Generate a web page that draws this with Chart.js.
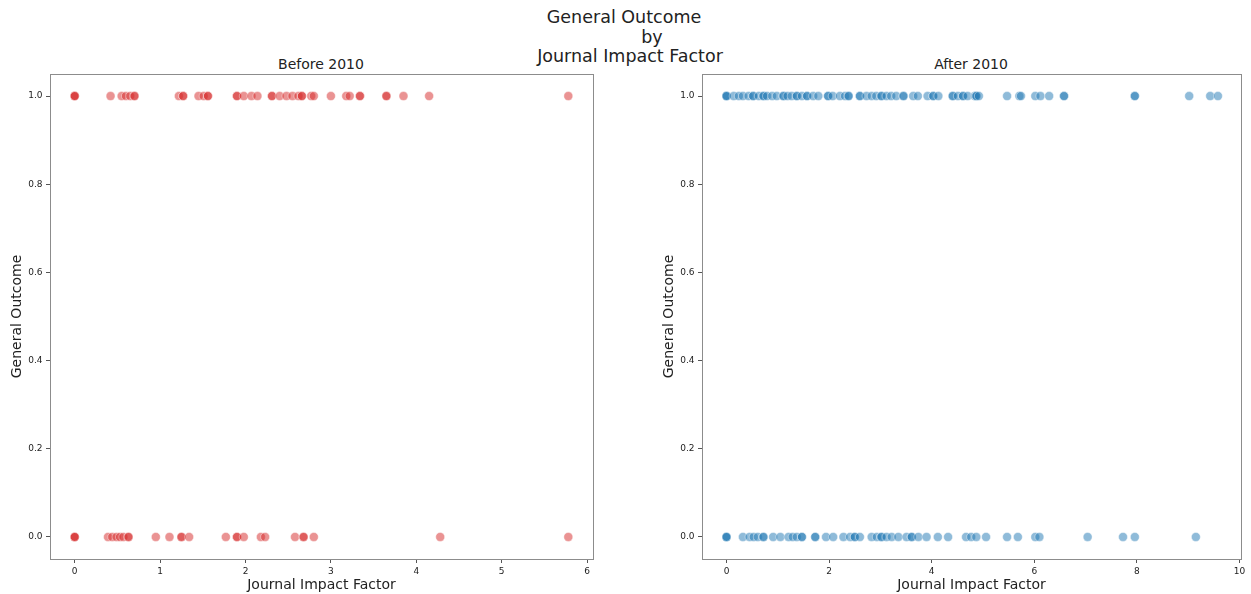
<!DOCTYPE html>
<html>
<head>
<meta charset="utf-8">
<script src="https://cdn.jsdelivr.net/npm/chart.js@4.4.1/dist/chart.umd.min.js"></script>
<style>
  html, body { margin: 0; padding: 0; background: #ffffff; }
  #wrap { position: relative; width: 1251px; height: 594px; overflow: hidden; font-family: "DejaVu Sans", sans-serif; color: #222; }
  .txt { position: absolute; white-space: nowrap; transform: translate(-50%, -50%); line-height: 1; }
  .sup { font-size: 17.5px; }
  .sub { font-size: 14px; }
  canvas { position: absolute; top: 0; }
</style>
</head>
<body>
<div id="wrap">
  <div class="txt sup" style="left:624px; top:18px;">General Outcome</div>
  <div class="txt sup" style="left:652px; top:38px;">by</div>
  <div class="txt sup" style="left:630px; top:57px;">Journal Impact Factor</div>
  <div class="txt sub" style="left:321px; top:64px;">Before 2010</div>
  <div class="txt sub" style="left:971px; top:64px;">After 2010</div>
  <div id="left" style="position:absolute; left:0; top:0; width:625px; height:594px;"><canvas id="cBefore"></canvas></div>
  <div id="right" style="position:absolute; left:652px; top:0; width:599px; height:594px;"><canvas id="cAfter"></canvas></div>
</div>
<script>
// Journal impact factors of studies, split by general outcome (1 = positive, 0 = negative)
const beforeOutcome1 = [0, 0, 0, 0.42, 0.55, 0.60, 0.65, 0.70, 0.70, 1.22, 1.27, 1.27, 1.45, 1.51, 1.56, 1.56,
  1.90, 1.90, 1.98, 2.07, 2.14, 2.31, 2.31, 2.40, 2.48, 2.55, 2.62, 2.66, 2.66, 2.77, 2.80, 3.00, 3.18, 3.22,
  3.34, 3.34, 3.65, 3.65, 3.85, 4.15, 5.78];
const beforeOutcome0 = [0, 0, 0, 0.39, 0.44, 0.49, 0.53, 0.57, 0.63, 0.63, 0.95, 1.11, 1.25, 1.25, 1.34, 1.77,
  1.90, 1.90, 1.98, 2.18, 2.23, 2.58, 2.68, 2.68, 2.80, 4.28, 5.78];
const afterOutcome1 = [0, 0, 0, 0.14, 0.24, 0.32, 0.43, 0.52, 0.52, 0.63, 0.72, 0.72, 0.79, 0.89, 0.98, 1.11, 1.11,
  1.19, 1.27, 1.37, 1.37, 1.47, 1.57, 1.57, 1.69, 1.79, 1.98, 1.98, 2.07, 2.21, 2.31, 2.38, 2.38, 2.60, 2.60,
  2.73, 2.83, 2.92, 3.02, 3.02, 3.12, 3.21, 3.31, 3.45, 3.45, 3.64, 3.73, 3.92, 4.03, 4.03, 4.13, 4.41, 4.41,
  4.51, 4.61, 4.61, 4.70, 4.84, 4.87, 4.87, 4.92, 5.47, 5.71, 5.74, 6.02, 6.12, 6.29, 6.58, 6.58, 7.96, 7.96,
  9.02, 9.43, 9.58];
const afterOutcome0 = [0, 0, 0, 0.32, 0.45, 0.53, 0.61, 0.72, 0.72, 0.91, 1.05, 1.21, 1.29, 1.37, 1.47, 1.47,
  1.73, 1.73, 1.94, 2.08, 2.28, 2.41, 2.50, 2.50, 2.60, 2.83, 2.93, 3.02, 3.02, 3.12, 3.22, 3.35, 3.51, 3.61,
  3.61, 3.74, 3.90, 4.12, 4.32, 4.67, 4.77, 4.87, 5.06, 5.47, 5.68, 6.02, 6.10, 7.04, 7.73, 7.96, 9.15];

const beforeXTicks = [0, 1, 2, 3, 4, 5, 6];
const afterXTicks = [0, 2, 4, 6, 8, 10];
const yTicks = [0.0, 0.2, 0.4, 0.6, 0.8, 1.0];

const FONT = "'DejaVu Sans', sans-serif";
const TEXT = '#222222';

// draws the four-sided box around each plot area
const frame = {
  id: 'frame',
  afterDraw(chart) {
    const a = chart.chartArea, ctx = chart.ctx;
    ctx.save();
    ctx.strokeStyle = '#8c8c8c';
    ctx.lineWidth = 1;
    ctx.strokeRect(a.left + 0.5, a.top + 0.5, a.right - a.left, a.bottom - a.top);
    ctx.restore();
  }
};

function points(values, y) {
  return values.map(v => ({ x: v, y: y }));
}

function makeChart(id, rgb, ones, zeros, xTicks, xMin, xMax, padRight) {
  const fill = `rgba(${rgb},0.5)`;
  const ds = (vals, y) => ({
    data: points(vals, y),
    backgroundColor: fill,
    borderColor: 'rgba(255,255,255,0.6)',
    borderWidth: 0.7,
    pointRadius: 4.5,
    pointHoverRadius: 4.5
  });
  return new Chart(document.getElementById(id), {
    type: 'scatter',
    data: { datasets: [ds(ones, 1), ds(zeros, 0)] },
    options: {
      responsive: true,
      maintainAspectRatio: false,
      animation: false,
      events: [],
      layout: { padding: { top: 74, left: 0, right: padRight, bottom: 0 } },
      plugins: { legend: { display: false }, tooltip: { enabled: false } },
      scales: {
        x: {
          type: 'linear',
          min: xMin,
          max: xMax,
          afterBuildTicks: s => { s.ticks = xTicks.map(v => ({ value: v })); },
          afterFit: s => { s.height = 35; },
          border: { display: false },
          grid: { display: true, drawOnChartArea: false, drawTicks: true, tickLength: 4, tickColor: '#555555' },
          ticks: { color: TEXT, font: { family: FONT, size: 9 }, padding: 3, maxRotation: 0, autoSkip: false,
                   callback: v => String(v) },
          title: { display: true, text: 'Journal Impact Factor', color: TEXT,
                   font: { family: FONT, size: 14, lineHeight: 1.2 }, padding: { top: 0, bottom: 0.6 } }
        },
        y: {
          type: 'linear',
          min: -0.05,
          max: 1.05,
          afterBuildTicks: s => { s.ticks = yTicks.map(v => ({ value: v })); },
          afterFit: s => { s.width = 50; },
          border: { display: false },
          grid: { display: true, drawOnChartArea: false, drawTicks: true, tickLength: 4, tickColor: '#555555' },
          ticks: { color: TEXT, font: { family: FONT, size: 9 }, padding: 3.5, autoSkip: false,
                   callback: v => Number(v).toFixed(1) },
          title: { display: true, text: 'General Outcome', color: TEXT,
                   font: { family: FONT, size: 14, lineHeight: 1.2 }, padding: { top: 8.6, bottom: 0 } }
        }
      }
    },
    plugins: [frame]
  });
}

makeChart('cBefore', '214,39,40', beforeOutcome1, beforeOutcome0, beforeXTicks, -0.289, 6.069, 32);
makeChart('cAfter', '31,119,180', afterOutcome1, afterOutcome0, afterXTicks, -0.4775, 10.03, 10);
</script>
</body>
</html>
